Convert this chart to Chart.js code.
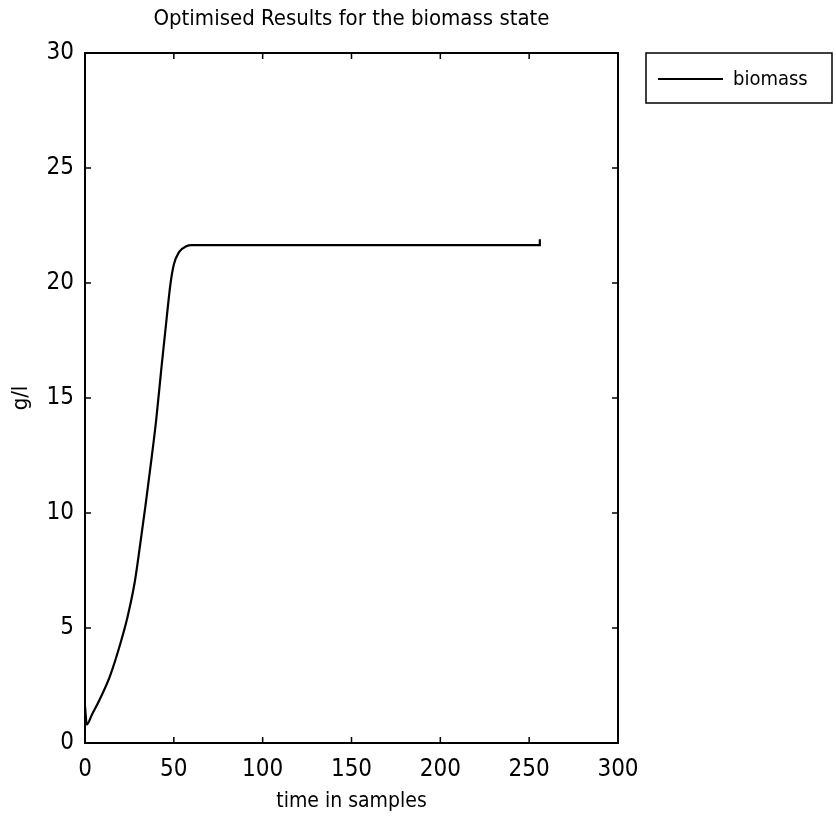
<!DOCTYPE html>
<html>
<head>
<meta charset="utf-8">
<script src="https://cdn.jsdelivr.net/npm/chart.js@4.4.1/dist/chart.umd.min.js"></script>
<style>
  html, body { margin: 0; padding: 0; background: #fff; }
  #wrap { width: 836px; height: 816px; }
</style>
</head>
<body>
<div id="wrap"><canvas id="myChart" width="836" height="816"></canvas></div>
<script>
// values
let timeSamples = [0, 1, 4, 8, 14, 20, 24, 28, 31, 34, 37, 40, 43, 46, 48, 50, 53, 57, 60, 100, 150, 200, 256, 256];
let biomass = [1.6, 0.8, 1.25, 1.85, 2.9, 4.35, 5.5, 7.0, 8.6, 10.3, 12.1, 14.0, 16.3, 18.5, 19.9, 20.8, 21.35, 21.6, 21.65, 21.65, 21.65, 21.65, 21.65, 21.9];
let xTicks = [0, 50, 100, 150, 200, 250, 300];
let yTicks = [0, 5, 10, 15, 20, 25, 30];
let chartTitle = 'Optimised Results for the biomass state';

let fontFamily = '"Liberation Sans Narrow", "DejaVu Sans Condensed", Arial, sans-serif';

let points = timeSamples.map((t, i) => ({ x: t, y: biomass[i] }));

// matlab style box with inward ticks, title and legend
let boxPlugin = {
    id: 'box',
    afterDraw(chart) {
        let ctx = chart.ctx;
        let a = chart.chartArea;
        let xs = chart.scales.x;
        let ys = chart.scales.y;
        ctx.save();
        ctx.strokeStyle = '#000';
        ctx.lineWidth = 2;
        ctx.strokeRect(a.left, a.top, a.right - a.left, a.bottom - a.top);
        ctx.lineWidth = 1.5;
        ctx.beginPath();
        xTicks.forEach(v => {
            let px = xs.getPixelForValue(v);
            ctx.moveTo(px, a.bottom); ctx.lineTo(px, a.bottom - 6);
            ctx.moveTo(px, a.top); ctx.lineTo(px, a.top + 6);
        });
        yTicks.forEach(v => {
            let py = ys.getPixelForValue(v);
            ctx.moveTo(a.left, py); ctx.lineTo(a.left + 6, py);
            ctx.moveTo(a.right, py); ctx.lineTo(a.right - 6, py);
        });
        ctx.stroke();

        ctx.fillStyle = '#000';
        ctx.font = '22px ' + fontFamily;
        ctx.textAlign = 'center';
        ctx.textBaseline = 'middle';
        ctx.fillText(chartTitle, (a.left + a.right) / 2, 19);

        // legend box
        let lx = a.right + 28, ly = a.top, lw = 186, lh = 50;
        ctx.lineWidth = 1.5;
        ctx.strokeRect(lx, ly, lw, lh);
        ctx.lineWidth = 2;
        ctx.beginPath();
        ctx.moveTo(lx + 12, ly + 26);
        ctx.lineTo(lx + 77, ly + 26);
        ctx.stroke();
        ctx.font = '20px ' + fontFamily;
        ctx.textAlign = 'left';
        ctx.fillText(chart.data.datasets[0].label, lx + 87, ly + 27);
        ctx.restore();
    }
};

let chart1 = new Chart(document.getElementById('myChart').getContext('2d'), {
    type: 'line',
    data: {
        datasets: [{
            label: 'biomass',
            data: points,
            borderColor: '#000',
            borderWidth: 2.2,
            pointRadius: 0,
            cubicInterpolationMode: 'monotone',
            fill: false
        }]
    },
    options: {
        responsive: false,
        animation: false,
        layout: { padding: { left: 0, right: 218, top: 53, bottom: 0 } },
        plugins: {
            legend: { display: false },
            tooltip: { enabled: false },
            title: { display: false }
        },
        scales: {
            x: {
                type: 'linear',
                min: 0,
                max: 300,
                afterBuildTicks: s => { s.ticks = xTicks.map(v => ({ value: v })); },
                afterFit: s => { s.height = 73; },
                grid: { display: false },
                border: { display: false },
                ticks: { color: '#000', padding: 4, font: { family: fontFamily, size: 24 } },
                title: {
                    display: true,
                    text: 'time in samples',
                    color: '#000',
                    padding: { top: 0, bottom: 2 },
                    font: { family: fontFamily, size: 21 }
                }
            },
            y: {
                min: 0,
                max: 30,
                afterBuildTicks: s => { s.ticks = yTicks.map(v => ({ value: v })); },
                afterFit: s => { s.width = 85; },
                grid: { display: false },
                border: { display: false },
                ticks: { color: '#000', padding: 3, font: { family: fontFamily, size: 24 } },
                title: {
                    display: true,
                    text: 'g/l',
                    color: '#000',
                    padding: { top: 8, bottom: 0 },
                    font: { family: fontFamily, size: 22 }
                }
            }
        }
    },
    plugins: [boxPlugin]
});
</script>
</body>
</html>
